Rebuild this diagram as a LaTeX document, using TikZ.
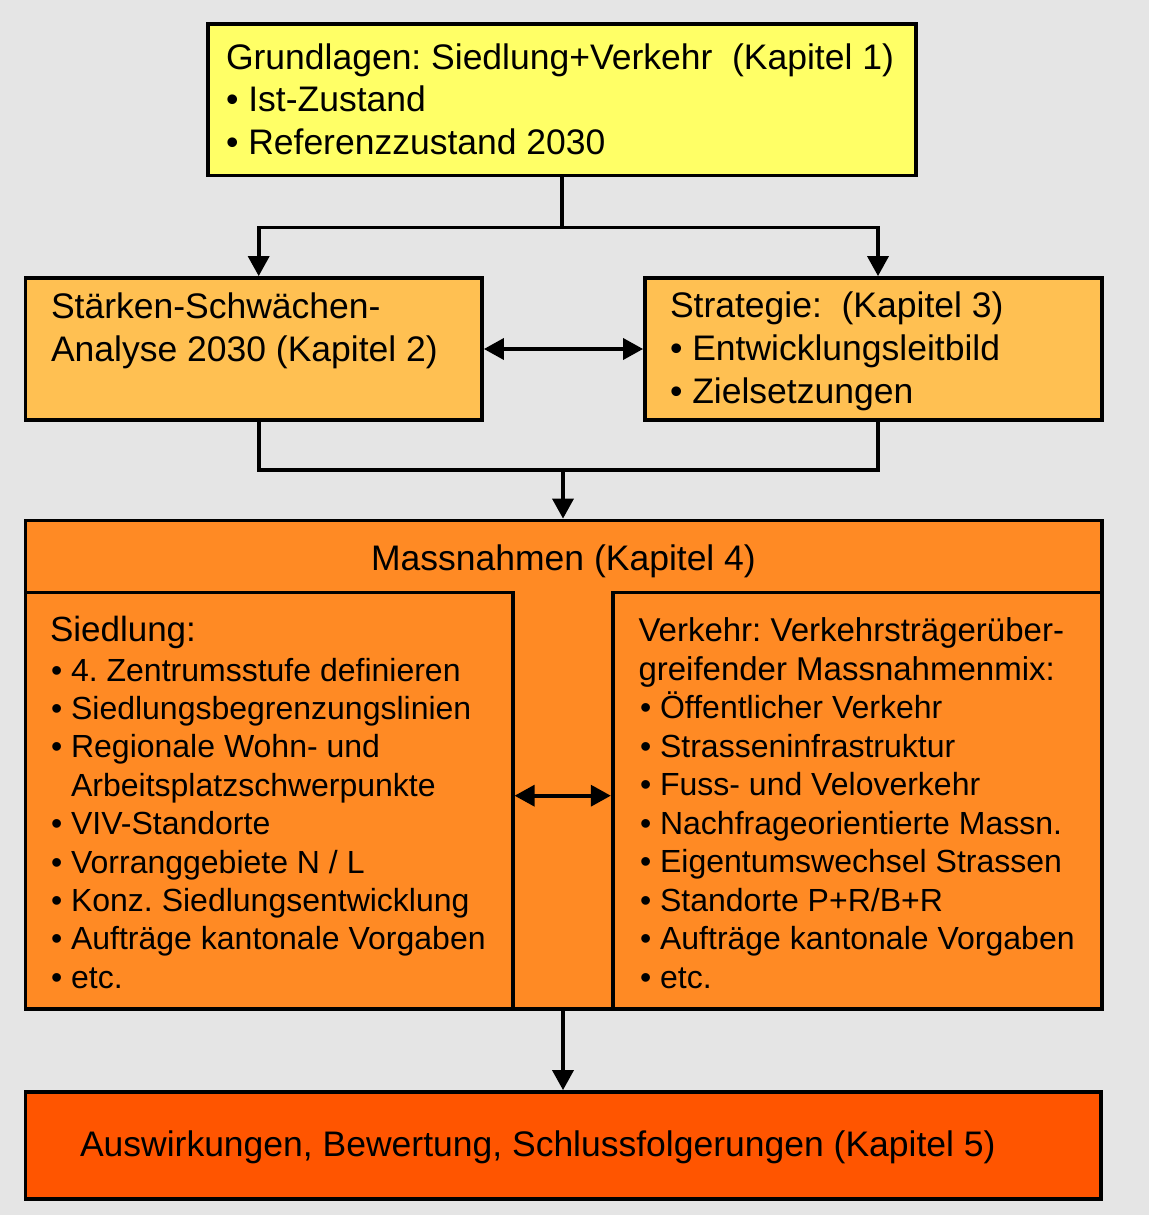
\documentclass[tikz,border=0pt]{standalone}
\usepackage{fontspec}
\setmainfont{Liberation Sans}
\usetikzlibrary{arrows.meta}
\definecolor{bgc}{HTML}{E5E5E5}
\definecolor{yel}{HTML}{FFFF66}
\definecolor{lor}{HTML}{FFC052}
\definecolor{mor}{HTML}{FF8A24}
\definecolor{ror}{HTML}{FF5500}
\tikzset{
  box/.style={draw=black, line width=3.8pt, rectangle, inner sep=0pt, anchor=center},
  txt/.style={inner sep=0pt, outer sep=0pt, align=left, anchor=base west, text=black},
  big/.style={font=\fontsize{35.5}{42.5}\selectfont},
  conn/.style={draw=black, line width=3.6pt},
  arr/.style={conn, -{Triangle[width=21pt,length=20pt]}},
  arrtwo/.style={conn, {Triangle[width=21pt,length=20pt]}-{Triangle[width=21pt,length=20pt]}}
}
\begin{document}
\frenchspacing
\begin{tikzpicture}[x=1pt,y=-1pt]
\fill[bgc] (0,0) rectangle (1149,1215);
\useasboundingbox (0,0) rectangle (1149,1215);

% boxes
\node[box, fill=yel, minimum width=708pt, minimum height=151.5pt] (grund) at (562,99.75) {};
\node[box, fill=lor, minimum width=456.5pt, minimum height=142pt] (left) at (253.75,349) {};
\node[box, fill=lor, minimum width=457pt, minimum height=142pt] (right) at (873.5,349) {};
\node[box, fill=mor, minimum width=1076.5pt, minimum height=488.5pt] (mass) at (563.75,764.75) {};
\node[box, fill=mor, minimum width=487.2pt, minimum height=416.5pt] (inl) at (269.1,800.75) {};
\node[box, fill=mor, minimum width=489.3pt, minimum height=416.5pt] (inr) at (857.35,800.75) {};
\node[box, fill=ror, minimum width=1075.5pt, minimum height=106.7pt] (bottom) at (563.25,1145.35) {};

% texts (multi-line nodes: base anchor = baseline of the last line)
\node[txt, big] (tgrund) at (226,154) {Grundlagen: Siedlung+Verkehr\ \ (Kapitel 1)\\• Ist-Zustand\\• Referenzzustand 2030};
\node[txt, font=\fontsize{35.5}{43.8}\selectfont] (tleft) at (51,361.8) {Stärken-Schwächen-\\Analyse 2030 (Kapitel 2)};
\node[txt, font=\fontsize{35.5}{43.4}\selectfont] (tright) at (670,403.8) {Strategie:\ \ (Kapitel 3)\\• Entwicklungsleitbild\\• Zielsetzungen};
\node[txt, big, anchor=base] (tmass) at (563.5,570) {Massnahmen (Kapitel 4)};
\node[txt, font=\fontsize{35}{40}\selectfont] (tsied) at (50,641) {Siedlung:};
\node[txt, font=\fontsize{32}{38.4}\selectfont] (tsiedl) at (51,988.2) {• 4. Zentrumsstufe definieren\\• Siedlungsbegrenzungslinien\\• Regionale Wohn- und\\\hphantom{•\ }Arbeitsplatzschwerpunkte\\• VIV-Standorte\\• Vorranggebiete N / L\\• Konz. Siedlungsentwicklung\\• Aufträge kantonale Vorgaben\\• etc.};
\node[txt, font=\fontsize{33}{38.5}\selectfont] (tverk) at (638.5,680) {Verkehr: Verkehrsträgerüber-\\greifender Massnahmenmix:};
\node[txt, font=\fontsize{32}{38.5}\selectfont] (tverkl) at (640,988) {• Öffentlicher Verkehr\\• Strasseninfrastruktur\\• Fuss- und Veloverkehr\\• Nachfrageorientierte Massn.\\• Eigentumswechsel Strassen\\• Standorte P+R/B+R\\• Aufträge kantonale Vorgaben\\• etc.};
\node[txt, big] (tbottom) at (80,1156) {Auswirkungen, Bewertung, Schlussfolgerungen (Kapitel 5)};

% connectors
\coordinate (lx) at (258.7,227.5);
\coordinate (rx) at (878,227.5);
\coordinate (m) at (563,470);
\coordinate (ia) at (0,795.7);
\draw[conn] (grund.south) -- (grund.south |- lx);
\draw[arrtwo] (lx |- left.north) -- (lx) -- (rx) -- (rx |- right.north);
\draw[arrtwo] (left.east) -- (right.west);
\draw[conn] (lx |- left.south) -- (lx |- m) -- (rx |- m) -- (rx |- right.south);
\draw[arr] (m) -- (m |- mass.north);
\draw[arrtwo] (inl.east |- ia) -- (inr.west |- ia);
\draw[arr] (mass.south -| m) -- (m |- bottom.north);
\end{tikzpicture}
\end{document}
